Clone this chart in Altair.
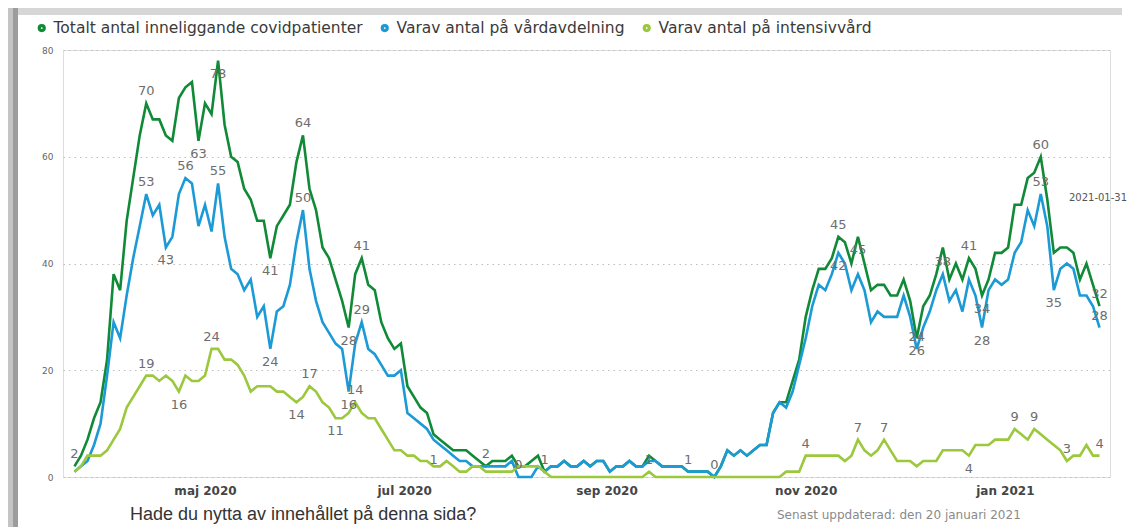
import altair as alt
import pandas as pd

# ---------------- data ----------------
series_names = [
    "Totalt antal inneliggande covidpatienter",
    "Varav antal på vårdavdelning",
    "Varav antal på intensivvård",
]
series_colors = ["#108a37", "#1c9ad6", "#9bc83c"]

start_date = "2020-03-22"
n_points = 158
step = "2D"

totalt = [
    2, 4, 7, 11, 14, 22, 38, 35, 48, 56,
    64, 70, 67, 67, 64, 63, 71, 73, 74, 63,
    70, 68, 78, 66, 60, 59, 54, 52, 48, 48,
    41, 47, 49, 51, 59, 64, 54, 50, 43, 41,
    37, 33, 28, 38, 41, 36, 35, 29, 26, 24,
    25, 17, 15, 13, 12, 8, 7, 6, 5, 5,
    5, 4, 3, 2, 3, 3, 3, 4, 2, 2,
    3, 4, 1, 2, 2, 3, 2, 2, 3, 2,
    3, 3, 1, 2, 2, 3, 2, 2, 4, 3,
    2, 2, 2, 2, 1, 1, 1, 1, 0, 2,
    5, 4, 5, 4, 5, 6, 6, 12, 14, 14,
    18, 22, 30, 35, 39, 39, 41, 45, 44, 40,
    45, 40, 35, 36, 36, 34, 34, 37, 33, 26,
    32, 34, 38, 43, 37, 40, 37, 41, 39, 34,
    37, 42, 42, 43, 51, 51, 56, 57, 60, 52,
    42, 43, 43, 42, 37, 40, 36, 32,
]
vard = [
    1, 2, 3, 6, 10, 19, 29, 26, 34, 41,
    47, 53, 49, 51, 43, 45, 53, 56, 55, 47,
    51, 46, 55, 45, 39, 38, 35, 37, 30, 32,
    24, 31, 32, 36, 44, 50, 39, 33, 29, 27,
    25, 24, 16, 25, 29, 24, 23, 21, 19, 19,
    20, 12, 11, 10, 9, 7, 6, 5, 4, 3,
    3, 2, 2, 2, 2, 2, 2, 3, 0, 0,
    0, 2, 1, 2, 2, 3, 2, 2, 3, 2,
    3, 3, 1, 2, 2, 3, 2, 2, 3, 3,
    2, 2, 2, 2, 1, 1, 1, 1, 0, 2,
    5, 4, 5, 4, 5, 6, 6, 12, 14, 13,
    16, 21, 26, 32, 36, 35, 38, 42, 40, 35,
    38, 35, 29, 31, 30, 30, 30, 34, 30, 24,
    28, 31, 35, 38, 33, 35, 31, 37, 34, 28,
    35, 37, 36, 37, 42, 44, 50, 47, 53, 47,
    35, 39, 40, 39, 34, 34, 32, 28,
]
iva = [
    1, 2, 4, 4, 4, 5, 7, 9, 13, 15,
    17, 19, 19, 18, 19, 18, 16, 19, 18, 18,
    19, 24, 24, 22, 22, 21, 19, 16, 17, 17,
    17, 16, 16, 15, 14, 15, 17, 16, 14, 13,
    11, 11, 12, 14, 12, 11, 11, 9, 7, 5,
    5, 4, 4, 3, 3, 2, 2, 3, 2, 1,
    1, 2, 2, 1, 1, 1, 1, 1, 2, 2,
    2, 2, 1, 0, 0, 0, 0, 0, 0, 0,
    0, 0, 0, 0, 0, 0, 0, 0, 1, 0,
    0, 0, 0, 0, 0, 0, 0, 0, 0, 0,
    0, 0, 0, 0, 0, 0, 0, 0, 0, 1,
    1, 1, 4, 4, 4, 4, 4, 4, 3, 4,
    7, 5, 4, 5, 7, 5, 3, 3, 3, 2,
    3, 3, 3, 5, 5, 5, 5, 4, 6, 6,
    6, 7, 7, 7, 9, 8, 7, 9, 8, 7,
    6, 5, 3, 4, 4, 6, 4, 4,
]

# data labels: series index, point index, shown value, position (a = above, b = below)
lab_s = [0] * 17 + [1] * 18 + [2] * 17
lab_k = [0, 11, 22, 19, 30, 35, 44, 42, 63, 117, 120, 129, 137, 139, 148, 157, 72,
         11, 17, 22, 14, 35, 30, 44, 42, 68, 94, 98, 117, 129, 133, 139, 148, 150, 157,
         11, 16, 21, 36, 34, 40, 43, 55, 88, 112, 120, 124, 137, 144, 147, 152, 157]
lab_v = [2, 70, 78, 63, 41, 64, 41, 28, 2, 45, 45, 26, 41, 34, 60, 32, 1,
         53, 56, 55, 43, 50, 24, 29, 16, 0, 1, 0, 42, 24, 38, 28, 53, 35, 28,
         19, 16, 24, 17, 14, 11, 14, 1, 1, 4, 7, 7, 4, 9, 9, 3, 4]
lab_pos = ["a", "a", "b", "b", "b", "a", "a", "b", "a", "a", "b", "b", "a", "b", "a", "a", "a",
           "a", "a", "a", "b", "a", "b", "a", "b", "a", "a", "a", "b", "a", "a", "b", "a", "b", "a",
           "a", "b", "a", "a", "b", "b", "a", "a", "a", "a", "a", "a", "b", "a", "a", "a", "a"]

month_names = ["jan", "feb", "mar", "apr", "maj", "jun", "jul", "aug", "sep", "okt", "nov", "dec"]
tick_months = [(2020, 5), (2020, 7), (2020, 9), (2020, 11), (2021, 1)]

end_note = "2021-01-31"
question = "Hade du nytta av innehållet på denna sida?"
updated = "Senast uppdaterad: den 20 januari 2021"

# ---------------- tables ----------------
dates = pd.date_range(start_date, periods=n_points, freq=step)
rows = []
for name, vals in zip(series_names, [totalt, vard, iva]):
    for d, v in zip(dates, vals):
        rows.append({"datum": d, "serie": name, "antal": v})
df = pd.DataFrame(rows)

lab = pd.DataFrame({
    "datum": [dates[k] for k in lab_k],
    "serie": [series_names[s] for s in lab_s],
    "antal": lab_v,
    "pos": lab_pos,
})

W, H = 1047, 427
FONT = "DejaVu Sans"

month_js = "[" + ",".join("'%s'" % m for m in month_names) + "]"
x_enc = alt.X(
    "datum:T",
    scale=alt.Scale(domain=[alt.DateTime(year=2020, month=3, date=18, hours=12),
                            alt.DateTime(year=2021, month=2, date=2, hours=5)]),
    axis=alt.Axis(
        values=[alt.DateTime(year=y, month=m, date=1) for y, m in tick_months],
        labelExpr=month_js + "[month(datum.value)] + ' ' + year(datum.value)",
        title=None, grid=False, domain=False, ticks=False,
        labelFont=FONT, labelFontSize=12, labelFontWeight="bold",
        labelColor="#454545", labelPadding=8,
    ),
)
y_enc = alt.Y(
    "antal:Q",
    scale=alt.Scale(domain=[0, 80], nice=False),
    axis=alt.Axis(
        values=[0, 20, 40, 60, 80], title=None, domain=False, ticks=False,
        grid=True, gridDash=[1.5, 4], gridColor="#bdbdbd", gridWidth=1,
        labelFont=FONT, labelFontSize=9, labelColor="#666666", labelPadding=10,
    ),
)
color_enc = alt.Color(
    "serie:N",
    scale=alt.Scale(domain=series_names, range=series_colors),
    legend=alt.Legend(
        title=None, orient="none", legendX=-29, legendY=-30, direction="horizontal",
        symbolType="circle", symbolSize=10, symbolStrokeWidth=5,
        labelFont=FONT, labelFontSize=15.5, labelColor="#3a3a3a", labelLimit=0,
        labelOffset=4, columnPadding=10, padding=0,
    ),
)

one = pd.DataFrame({"a": [0]})
frame = alt.layer(
    alt.Chart(one).mark_rect(color="#c4c4c4").encode(
        x=alt.value(-55), x2=alt.value(-50), y=alt.value(-42), y2=alt.value(H + 50)),
    alt.Chart(one).mark_rect(color="#9c9c9c").encode(
        x=alt.value(-50), x2=alt.value(-45), y=alt.value(-42), y2=alt.value(H + 50)),
    alt.Chart(one).mark_rect(color="#d6d6d6").encode(
        x=alt.value(-45), x2=alt.value(W + 12), y=alt.value(-42), y2=alt.value(-35)),
)

lines = [
    alt.Chart(df).transform_filter(alt.datum.serie == name)
    .mark_line()
    .encode(x=x_enc, y=y_enc, color=color_enc, strokeWidth=alt.value(2.6))
    for name in series_names
]

lab_style = dict(font=FONT, fontSize=13, color="#6e6e6e")
labels_above = alt.Chart(lab).transform_filter(alt.datum.pos == "a").mark_text(
    dy=-12, **lab_style).encode(x="datum:T", y="antal:Q", text=alt.Text("antal:Q", format="d"))
labels_below = alt.Chart(lab).transform_filter(alt.datum.pos == "b").mark_text(
    dy=13, **lab_style).encode(x="datum:T", y="antal:Q", text=alt.Text("antal:Q", format="d"))

note = alt.Chart(pd.DataFrame({"t": [end_note]})).mark_text(
    font=FONT, fontSize=10, color="#555555", align="center", baseline="middle",
).encode(text="t:N", x=alt.value(1098 - 63), y=alt.value(148))

q_text = alt.Chart(pd.DataFrame({"t": [question]})).mark_text(
    font="Liberation Sans", fontSize=18, color="#333333", align="left", baseline="middle",
).encode(text="t:N", x=alt.value(130 - 63), y=alt.value(465))

upd_text = alt.Chart(pd.DataFrame({"t": [updated]})).mark_text(
    font=FONT, fontSize=12, color="#8a8a8a", align="left", baseline="middle",
).encode(text="t:N", x=alt.value(777 - 63), y=alt.value(465))

chart = alt.layer(frame, *lines, labels_above, labels_below, note, q_text, upd_text).properties(
    width=W, height=H,
    autosize=alt.AutoSizeParams(type="none"),
    padding={"left": 55, "top": 42, "right": 19, "bottom": 50},
).configure_view(stroke=None).configure(background="white")

chart.save("out.html", embed_options={"renderer": "svg", "actions": False})
